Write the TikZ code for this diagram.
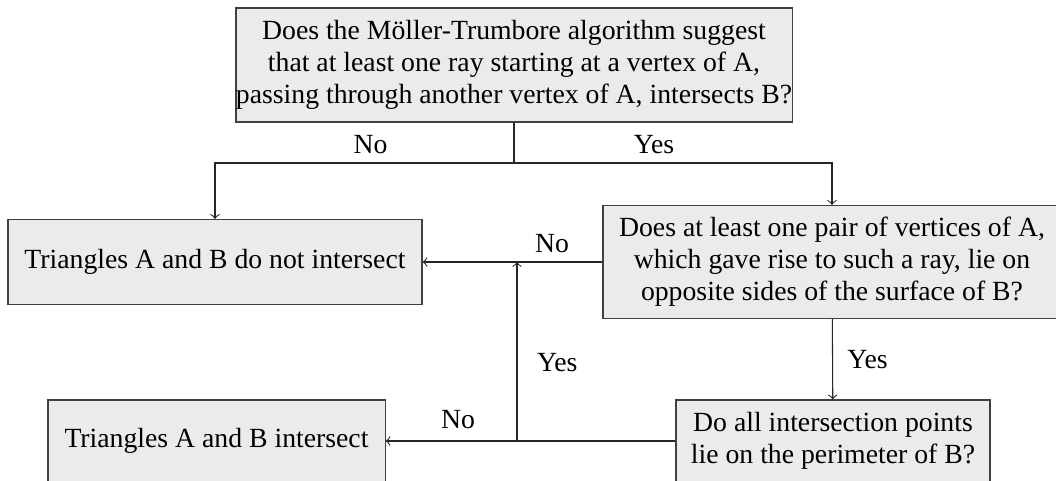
\documentclass[tikz,border=0pt]{standalone}
\usepackage{fontspec}
\setmainfont{Liberation Serif}
\usepackage{tikz}
\usetikzlibrary{arrows}
\usetikzlibrary{positioning}
\tikzstyle{question}=[rectangle,draw=black!75,fill=black!8,align=center,inner sep=0pt]
\tikzstyle{verdict}=[rectangle,draw=black!75,fill=black!8,inner sep=0pt]
\tikzstyle{suite}=[->,draw=black!85]
\tikzstyle{lien}=[draw=black!85]
\begin{document}
\begin{tikzpicture}[x=0.375pt,y=-0.375pt,font=\fontsize{10.4}{12}\selectfont]
\useasboundingbox (0,0) rectangle (1056,481);
\node[question,minimum width=208.5pt,minimum height=42.75pt] (q1) at (514,65)
  {Does the Möller-Trumbore algorithm suggest\\that at least one ray starting at a vertex of A,\\passing through another vertex of A, intersects B?};
\node[verdict,minimum width=155.25pt,minimum height=31.9pt] (no1) at (215,262) {Triangles A and B do not intersect};
\node[question,minimum width=171.75pt,minimum height=42.4pt] (q2) at (832,262)
  {Does at least one pair of vertices of A,\\which gave rise to such a ray, lie on\\opposite sides of the surface of B?};
\node[verdict,minimum width=126.4pt,minimum height=30.75pt] (yes3) at (216.5,441) {Triangles A and B intersect};
\node[question,minimum width=117.75pt,minimum height=30.75pt] (q3) at (833,441)
  {Do all intersection points\\lie on the perimeter of B?};
\coordinate (fork) at (514,163);
\coordinate (merge) at (517,441);
\coordinate (join) at (517,262);
%fleches
\draw[lien] (q1.south) -- (fork);
\draw[suite] (fork) -| (no1) node[pos=0.24,above]{No};
\draw[suite] (fork) -| (q2) node[pos=0.22,above]{Yes};
\draw[suite] (q2.west) -- (no1.east) node[pos=0.28,above]{No};
\draw[suite] (q2) -- (q3) node[midway,right,xshift=2pt]{Yes};
\draw[suite] (q3.west) -- (yes3.east) node[pos=0.75,above,yshift=1pt]{No};
\draw[suite] (merge) -- (join) node[midway,right,xshift=4pt,yshift=-4pt]{Yes};
\end{tikzpicture}
\end{document}
